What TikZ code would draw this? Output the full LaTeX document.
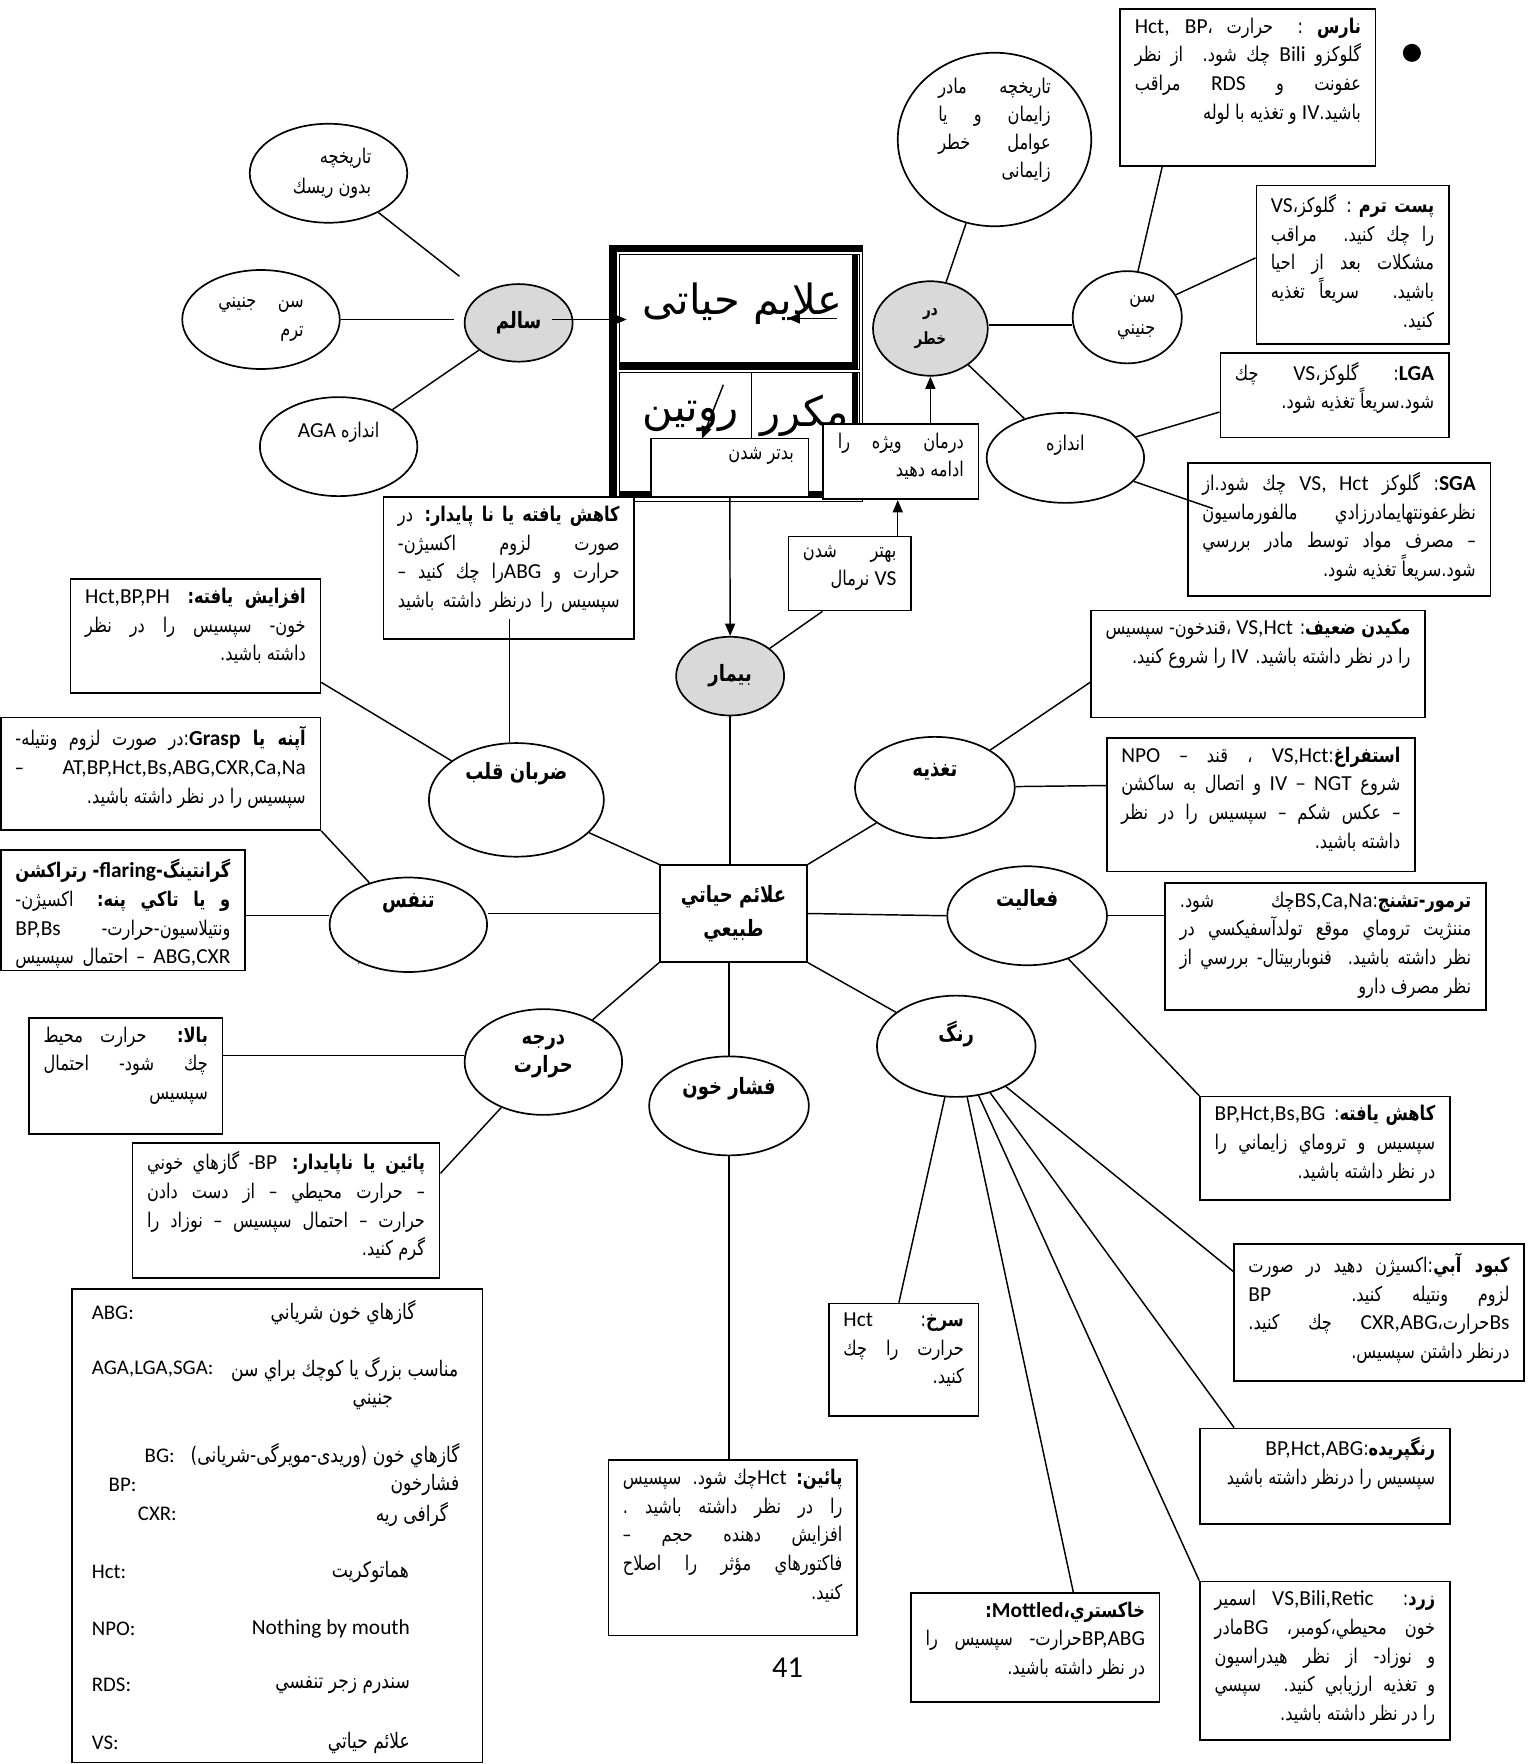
\documentclass[tikz,border=0pt]{standalone}
\usepackage{fontspec}
\usepackage{graphicx}
\usetikzlibrary{shapes.geometric,arrows.meta}
\newfontfamily\fa[Script=Arabic,FakeStretch=0.8]{DejaVu Sans}
\newfontfamily\fatitle[Script=Arabic]{DejaVu Sans}
\newfontfamily\latf{Carlito}
\TeXXeTstate=1
\definecolor{ovalgray}{RGB}{217,217,217}

% latin run inside a right-to-left line
\newcommand{\lat}[1]{\beginL{\latf\fontsize{19}{26}\selectfont #1}\endL}
% justified and right aligned lines (squeezed when too long)
\newsavebox\linebox
\newcommand{\fitline}[2]{\sbox\linebox{#2}%
  \ifdim\wd\linebox>\linewidth
    \hbox to\linewidth{\resizebox{\linewidth}{\height}{\usebox\linebox}}%
  \else
    \hbox to\linewidth{#1#2}%
  \fi}
\newcommand{\jl}[1]{\fitline{}{#1}}
\newcommand{\rl}[1]{\fitline{\hfill}{#1}}
\newcommand{\cl}[1]{\hbox to\linewidth{\hss#1\hss}}
\newcommand{\notebody}[3]{\vbox to #2pt{\hsize=#1pt\linewidth=#1pt \vskip 8pt #3\vfill}}
\newcommand{\ovalbody}[3]{\vbox{\hsize=#1pt\linewidth=#1pt #3\vskip #2pt}}

\begin{document}
\begin{tikzpicture}[x=1pt,y=-1pt,line width=1.3pt,
  note/.style={draw, line width=1.5pt, fill=white, anchor=north west,
    inner xsep=13pt, inner ysep=0pt, font=\fa\fontsize{18}{25.5}\selectfont},
  oval/.style={draw, ellipse, line width=1.5pt, fill=white, inner sep=0pt,
    font=\fa\bfseries\fontsize{20}{25}\selectfont},
  plainoval/.style={oval, font=\fa\fontsize{18}{26}\selectfont},
  hub/.style={oval, fill=ovalgray},
  tip/.style={-{Triangle[length=11pt,width=9pt]}}]

\useasboundingbox (0,0) rectangle (1364,1568);

% framed title table
\draw[line width=0.8pt] (542,218) rectangle (767,446);
\draw[line width=6pt] (545,446) |- (767,221);
\draw[line width=0.8pt] (551,226) rectangle (764,328);
\draw[line width=6pt] (760,226) |- (551,325);
\draw[line width=0.8pt] (551,331) rectangle (764,442);
\draw[line width=0.8pt] (668,331) -- (668,442);
\draw[line width=6pt] (760,331) |- (551,439);
\node[font=\fatitle\fontsize{37}{40}\selectfont] (title) at (660,270) {\beginR علایم حیاتی\endR};
\node[font=\fatitle\fontsize{37}{40}\selectfont] (routine) at (614,370) {\beginR روتین\endR};
\node[font=\fatitle\fontsize{37}{40}\selectfont] (mokarrar) at (715,370) {\beginR مکرر\endR};
\coordinate (ua1) at (744,283);
\coordinate (ua2) at (700,283);
\coordinate (ra1) at (643,342);
\coordinate (ra2) at (624,390);

\node[note] (badtar) at (578,389) {\notebody{114}{52}{\rl{\beginR بدتر شدن\endR}}};
\node[note] (darman) at (731,376) {\notebody{112}{67}{\jl{\beginR درمان ويژه را\endR}\rl{\beginR ادامه دهيد\endR}}};
\node[note] (behtar) at (700,476) {\notebody{83}{66}{\jl{\beginR بهتر شدن\endR}\rl{\beginR\lat{VS} نرمال\endR}}};

% left: healthy
\node[plainoval, minimum width=140, minimum height=88] (tarikh1) at (292,154)
  {\ovalbody{76}{0}{\rl{\beginR تاريخچه\endR}\rl{\beginR بدون ريسك\endR}}};
\node[plainoval, minimum width=140, minimum height=88] (sen1) at (232,284)
  {\ovalbody{76}{0}{\jl{\beginR سن جنيني\endR}\rl{\beginR ترم\endR}}};
\node[plainoval, minimum width=140, minimum height=88] (aga) at (301,397)
  {\ovalbody{90}{26}{\cl{\beginR اندازه \lat{AGA}\endR}}};
\node[hub, minimum width=96, minimum height=69] (salem) at (461,287) {\beginR سالم\endR};

% right: at risk
\node[plainoval, minimum width=172, minimum height=132, font=\fa\fontsize{18}{25}\selectfont] (tarikh2) at (884,124)
  {\ovalbody{100}{16}{\jl{\beginR تاريخچه مادر\endR}\jl{\beginR زايمان و يا\endR}\jl{\beginR عوامل خطر\endR}\rl{\beginR زايمانی\endR}}};
\node[hub, minimum width=102, minimum height=84, font=\fa\bfseries\fontsize{15}{25}\selectfont] (darkhatar) at (827,292)
  {\ovalbody{40}{0}{\cl{\beginR در\endR}\cl{\beginR خطر\endR}}};
\node[plainoval, minimum width=97, minimum height=82, font=\fa\fontsize{18}{29}\selectfont] (sen2) at (1002,282)
  {\ovalbody{50}{0}{\rl{\beginR سن\endR}\rl{\beginR جنيني\endR}}};
\node[plainoval, minimum width=140, minimum height=80] (andaze) at (947,407)
  {\ovalbody{60}{22}{\cl{\beginR اندازه\endR}}};
\node[circle, fill=black, minimum size=16, inner sep=0pt] (bullet) at (1255,47) {};

\node[note] (naras) at (995,7) {\notebody{201}{140}{
  \jl{\beginR\textbf{نارس} : حرارت ،\lat{Hct, BP}\endR}
  \jl{\beginR گلوکزو \lat{Bili} چك شود. از نظر\endR}
  \jl{\beginR عفونت و \lat{RDS} مراقب\endR}
  \rl{\beginR باشيد.\lat{IV} و تغذيه با لوله\endR}}};
\node[note] (postterm) at (1116,164) {\notebody{145}{141}{
  \jl{\beginR\textbf{پست ترم} : گلوکز،\lat{VS}\endR}
  \jl{\beginR را چك كنيد. مراقب\endR}
  \jl{\beginR مشكلات بعد از احيا\endR}
  \jl{\beginR باشيد. سريعاً تغذيه\endR}
  \rl{\beginR كنيد.\endR}}};
\node[note] (lga) at (1084,313) {\notebody{177}{75}{
  \jl{\beginR\lat{\textbf{LGA}}: گلوکز،\lat{VS} چك\endR}
  \rl{\beginR شود.سريعاً تغذيه شود.\endR}}};
\node[note] (sga) at (1055,411) {\notebody{243}{118}{
  \jl{\beginR\lat{\textbf{SGA}}: گلوکز \lat{VS, Hct} چك شود.از\endR}
  \jl{\beginR نظرعفونتهايمادرزادي مالفورماسيون\endR}
  \jl{\beginR – مصرف مواد توسط مادر بررسي\endR}
  \rl{\beginR شود.سريعاً تغذيه شود.\endR}}};

% sick
\node[hub, minimum width=96, minimum height=70] (bimar) at (649,601) {\beginR بيمار\endR};
\node[note] (kahesh1) at (340,441) {\notebody{197}{126}{
  \jl{\beginR\textbf{كاهش يافته يا نا پايدار:} در\endR}
  \jl{\beginR صورت لزوم اكسيژن-\endR}
  \jl{\beginR حرارت و \lat{ABG}را چك كنيد –\endR}
  \jl{\beginR سپسيس را درنظر داشته باشيد\endR}}};

% normal vital signs
\node[draw, line width=1.5pt, fill=white, minimum width=131, minimum height=86, inner sep=0pt,
  font=\fa\bfseries\fontsize{20}{30}\selectfont] (vital) at (652,812)
  {\ovalbody{120}{0}{\cl{\beginR علائم حياتي\endR}\cl{\beginR طبيعي\endR}}};

\node[oval, minimum width=142, minimum height=101] (zarban) at (459,711) {\ovalbody{110}{46}{\cl{\beginR ضربان قلب\endR}}};
\node[oval, minimum width=140, minimum height=84] (tanaffos) at (363,822) {\ovalbody{80}{38}{\cl{\beginR تنفس\endR}}};
\node[oval, minimum width=142, minimum height=90] (taghzie) at (831,700) {\ovalbody{80}{28}{\cl{\beginR تغذيه\endR}}};
\node[oval, minimum width=142, minimum height=88] (faaliat) at (913,814) {\ovalbody{80}{28}{\cl{\beginR فعاليت\endR}}};
\node[oval, minimum width=140, minimum height=94] (daraje) at (483,944) {\ovalbody{80}{10}{\cl{\beginR درجه\endR}\cl{\beginR حرارت\endR}}};
\node[oval, minimum width=142, minimum height=88] (feshar) at (648,983) {\ovalbody{100}{30}{\cl{\beginR فشار خون\endR}}};
\node[oval, minimum width=141, minimum height=90] (rang) at (850,930) {\ovalbody{70}{22}{\cl{\beginR رنگ\endR}}};
\node[font=\fa\fontsize{10}{12}\selectfont] (tdot) at (319,857) {.};

\node[note] (afzayesh) at (62,514) {\notebody{196}{101}{
  \jl{\beginR\textbf{افزايش يافته:} \lat{Hct,BP,PH}\endR}
  \jl{\beginR خون- سپسيس را در نظر\endR}
  \rl{\beginR داشته باشيد.\endR}}};
\node[note] (apne) at (0,637) {\notebody{258}{100}{
  \jl{\beginR\textbf{آپنه يا \lat{Grasp}}:در صورت لزوم ونتيله-\endR}
  \jl{\beginR\lat{AT,BP,Hct,Bs,ABG,CXR,Ca,Na} –\endR}
  \rl{\beginR سپسيس را در نظر داشته باشيد.\endR}}};
\node[note] (granting) at (0,755) {\notebody{191}{107}{
  \jl{\beginR\textbf{گرانتينگ-\lat{flaring}- رتراكشن}\endR}
  \jl{\beginR\textbf{و يا تاكي پنه:} اكسيژن-\endR}
  \jl{\beginR ونتيلاسيون-حرارت- \lat{BP,Bs}\endR}
  \jl{\beginR\lat{ABG,CXR} – احتمال سپسيس\endR}}};
\node[note] (bala) at (25,904) {\notebody{146}{103}{
  \jl{\beginR\textbf{بالا:} حرارت محيط\endR}
  \jl{\beginR چك شود- احتمال\endR}
  \rl{\beginR سپسيس\endR}}};
\node[note] (paein1) at (117,1015) {\notebody{247}{120}{
  \jl{\beginR\textbf{پائين يا ناپايدار:} \lat{BP}- گازهاي خوني\endR}
  \jl{\beginR – حرارت محيطي – از دست دادن\endR}
  \jl{\beginR حرارت – احتمال سپسيس – نوزاد را\endR}
  \rl{\beginR گرم كنيد.\endR}}};
\node[note] (paein2) at (540,1297) {\notebody{195}{156}{
  \jl{\beginR\textbf{پائين:} \lat{Hct}چك شود. سپسيس\endR}
  \jl{\beginR را در نظر داشته باشيد .\endR}
  \jl{\beginR افزايش دهنده حجم –\endR}
  \jl{\beginR فاكتورهاي مؤثر را اصلاح\endR}
  \rl{\beginR كنيد.\endR}}};
\node[note] (makidan) at (969,542) {\notebody{271}{95}{
  \jl{\beginR\textbf{مكيدن ضعيف}: \lat{VS,Hct} ،قندخون- سپسيس\endR}
  \rl{\beginR را در نظر داشته باشيد. \lat{IV} را شروع كنيد.\endR}}};
\node[note] (estefragh) at (983,655) {\notebody{248}{119}{
  \jl{\beginR\textbf{استفراغ}:\lat{VS,Hct} ، قند – \lat{NPO}\endR}
  \jl{\beginR شروع \lat{IV – NGT} و اتصال به ساكشن\endR}
  \jl{\beginR – عكس شكم – سپسيس را در نظر\endR}
  \rl{\beginR داشته باشيد.\endR}}};
\node[note] (tremor) at (1035,784) {\notebody{259}{113}{
  \jl{\beginR\textbf{ترمور-تشنج}:\lat{BS,Ca,Na}چك شود.\endR}
  \jl{\beginR مننژيت تروماي موقع تولدآسفيكسي در\endR}
  \jl{\beginR نظر داشته باشيد. فنوباربيتال- بررسي از\endR}
  \rl{\beginR نظر مصرف دارو\endR}}};
\node[note] (kahesh2) at (1066,974) {\notebody{196}{92}{
  \jl{\beginR\textbf{كاهش يافته}: \lat{BP,Hct,Bs,BG}\endR}
  \jl{\beginR سپسيس و تروماي زايماني را\endR}
  \rl{\beginR در نظر داشته باشيد.\endR}}};
\node[note] (kaboud) at (1096,1105) {\notebody{232}{122}{
  \jl{\beginR\textbf{كبود آبي}:اكسيژن دهيد در صورت\endR}
  \jl{\beginR لزوم ونتيله كنيد. \lat{BP}\endR}
  \jl{\beginR\lat{Bs}حرارت،\lat{CXR,ABG} چك كنيد.\endR}
  \rl{\beginR درنظر داشتن سپسيس.\endR}}};
\node[note] (sorkh) at (736,1158) {\notebody{107}{100}{
  \jl{\beginR\textbf{سرخ}: \lat{Hct}\endR}
  \jl{\beginR حرارت را چك\endR}
  \rl{\beginR كنيد.\endR}}};
\node[note] (rangpar) at (1066,1269) {\notebody{196}{85}{
  \rl{\beginR\textbf{رنگپريده}:\lat{BP,Hct,ABG}\endR}
  \rl{\beginR سپسيس را درنظر داشته باشيد\endR}}};
\node[note] (khakestari) at (809,1415) {\notebody{195}{97}{
  \rl{\beginR\textbf{خاكستري،\lat{Mottled}:}\endR}
  \jl{\beginR\lat{BP,ABG}حرارت- سپسيس را\endR}
  \rl{\beginR در نظر داشته باشيد.\endR}}};
\node[note] (zard) at (1066,1405) {\notebody{196}{141}{
  \jl{\beginR\textbf{زرد}: \lat{VS,Bili,Retic} اسمير\endR}
  \jl{\beginR خون محيطي،كومبر، \lat{BG}مادر\endR}
  \jl{\beginR و نوزاد- از نظر هيدراسيون\endR}
  \jl{\beginR و تغذيه ارزيابي كنيد. سپسي\endR}
  \rl{\beginR را در نظر داشته باشيد.\endR}}};

% abbreviations
\node[draw, line width=1.5pt, anchor=north west, minimum width=365, minimum height=421, inner sep=0pt] (legend) at (63,1145) {};
\foreach \yy/\ax/\abr/\px/\ptxt [count=\i] in {
  1167/81/ABG:/370/{\beginR گازهاي خون شرياني\endR},
  1217/81/{AGA,LGA,SGA:}/408/{\beginR مناسب بزرگ يا كوچك براي سن\endR},
  1294/128/BG:/409/{\beginR گازهاي خون (وريدی-مويرگی-شريانی)\endR},
  1320/96/BP:/409/{\beginR فشارخون\endR},
  1346/122/CXR:/399/{\beginR گرافی ريه\endR},
  1397/81/Hct:/364/{\beginR هماتوكريت\endR},
  1448/81/NPO:/365/{\lat{Nothing by mouth}},
  1498/81/RDS:/365/{\beginR سندرم زجر تنفسي\endR},
  1549/81/VS:/365/{\beginR علائم حياتي\endR}}
{
  \node[anchor=west, inner sep=0pt, font=\latf\fontsize{18.5}{26}\selectfont] (abr\i) at (\ax,\yy) {\abr};
  \node[anchor=east, inner sep=0pt, font=\fa\fontsize{19}{26}\selectfont] (fa\i) at (\px,\yy) {\ptxt};
}
\node[anchor=east, inner sep=0pt, font=\fa\fontsize{19}{26}\selectfont] (fa10) at (350,1246) {\beginR جنيني\endR};

\node[font=\latf\fontsize{27}{30}\selectfont] (pageno) at (700,1482) {41};

% connectors
\coordinate (salemout) at (491,284);
\coordinate (bigin) at (557,284);
\coordinate (kh1end) at ([shift={(113,109)}]kahesh1.north west);
\coordinate (sgaend) at ([shift={(23,41)}]sga.north west);
\coordinate (up1) at ([xshift=98]behtar.north west);

\draw[shorten >=25pt] (tarikh1) -- (salem);
\draw[shorten >=9pt] (sen1.east) -- (sen1.east -| salem.west);
\draw (aga) -- (salem);
\draw[tip] (salemout) -- (bigin);
\draw[tip] (ua1) -- (ua2);
\draw[tip] (ra1) -- (ra2);

\draw[tip] (badtar.south) -- (bimar.north);
\draw[tip] (up1) -- (up1 |- darman.south);
\draw[tip] (darman.north -| darkhatar.south) -- (darkhatar.south);
\draw (bimar) -- ([xshift=31]behtar.south west);
\draw (bimar.south) -- (bimar.south |- vital.north);

\draw (darkhatar) -- (tarikh2);
\draw ([yshift=3]darkhatar.east) -- ([yshift=3]darkhatar.east -| sen2.west);
\draw (darkhatar) -- (andaze);
\draw (sen2) -- ([xshift=38]naras.south west);
\draw (sen2) -- ([yshift=6]postterm.west);
\draw (andaze) -- ([yshift=-15]lga.west);
\draw (andaze) -- (sgaend);

\draw (vital.north west) -- (zarban);
\draw (vital.west) -- (vital.west -| tanaffos.east);
\draw (vital.south west) -- (daraje);
\draw (vital.south -| feshar.north) -- (feshar.north);
\draw (vital.south east) -- (rang);
\draw (vital.east) -- (faaliat.west);
\draw (vital.north east) -- (taghzie);

\draw (kh1end |- zarban.north) -- (kh1end);
\draw (zarban) -- ([yshift=10]afzayesh.south east);
\draw (apne.south east) -- (tanaffos);
\draw ([yshift=8]tanaffos.west) -- ([yshift=8]tanaffos.west -| granting.east);
\draw ([yshift=6]daraje.west) -- ([yshift=6]daraje.west -| bala.east);
\draw (daraje) -- ([yshift=-28]paein1.north east);
\draw (feshar.south) -- (feshar.south |- paein2.north);
\draw (taghzie) -- ([yshift=32]makidan.south west);
\draw (taghzie) -- ([yshift=17]estefragh.west);
\draw (faaliat.east) -- (faaliat.east -| tremor.west);
\draw (faaliat) -- (kahesh2.north west);
\draw (rang) -- ([xshift=63]sorkh.north west);
\draw (rang) -- ([xshift=145]khakestari.north west);
\draw (rang) -- (zard.north west);
\draw (rang) -- ([xshift=31]rangpar.north west);
\draw (rang) -- ([yshift=-25]kaboud.north west);

\end{tikzpicture}
\end{document}
